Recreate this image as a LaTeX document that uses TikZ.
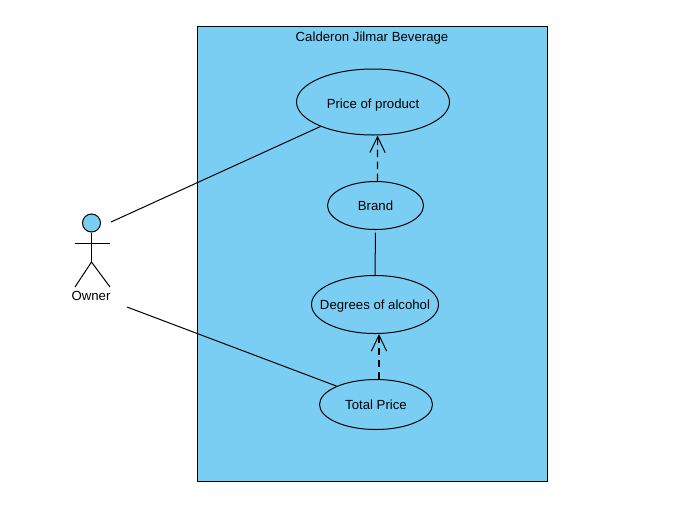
\documentclass[tikz,border=0pt]{standalone}
\usepackage{fontspec}
\setmainfont{Liberation Sans}
\usetikzlibrary{shapes,arrows.meta,positioning}
\definecolor{skyfill}{HTML}{7ACEF4}
\tikzset{
  usecase/.style={draw,ellipse,inner sep=-20pt,line width=.75pt,label},
  assoc/.style={line width=.75pt},
  depend/.style={line width=.8pt,dash pattern=on 5.5pt off 3.5pt,-{Straight Barb[length=12pt,width=11.5pt,line width=.75pt]}},
  label/.style={font=\fontsize{9.9}{11}\selectfont,text height=9.2pt,text depth=2pt}
}
\begin{document}
\begin{tikzpicture}[x=.75pt,y=-.75pt]
\useasboundingbox (0,0) rectangle (680,518);
%System
\node(system) at (372.5,253.5) [draw,fill=skyfill,line width=.75pt,minimum width=262.5pt,minimum height=341.25pt,inner sep=0pt] {};
\node(title) at (372,37) [label,inner sep=0pt] {Calderon Jilmar Beverage};

%Use cases
\node(price) at (373,102) [usecase,minimum width=114.75pt,minimum height=49.5pt,text height=11pt] {Price of product};
\node(brand) at (375.5,205.5) [usecase,minimum width=72pt,minimum height=36pt] {Brand};
\node(degrees) at (375,304.5) [usecase,minimum width=95.25pt,minimum height=43.5pt] {Degrees of alcohol};
\node(total) at (376,404.5) [usecase,minimum width=84.75pt,minimum height=37.5pt] {Total Price};

%Actor
\node(head) at (91.5,223) [draw,circle,fill=skyfill,line width=.75pt,minimum size=13.5pt,inner sep=0pt] {};
\coordinate(hip) at (91.5,262);
\coordinate(armL) at (75,243);
\coordinate(armR) at (110,243);
\coordinate(legL) at (75,287);
\coordinate(legR) at (110,287);
\draw[assoc] (head) -- (hip);
\draw[assoc] (armL) -- (armR);
\draw[assoc] (legL) -- (hip) -- (legR);
\node(owner) at (91,296) [label,inner sep=0pt] {Owner};

%Connectors
\coordinate(ownerUp) at (111,222);
\coordinate(ownerDown) at (127,307);
\draw[assoc] (ownerUp) -- (price.205.7);
\draw[assoc] (ownerDown) -- (total.155);
\draw[assoc,shorten <=2pt] (brand.south) -- (degrees.north);
\draw[depend] ([xshift=1.5pt]brand.north) -- ([xshift=3.4pt]price.south);
\draw[depend] ([xshift=2.25pt]total.north) -- ([xshift=3pt]degrees.south);
\end{tikzpicture}
\end{document}
